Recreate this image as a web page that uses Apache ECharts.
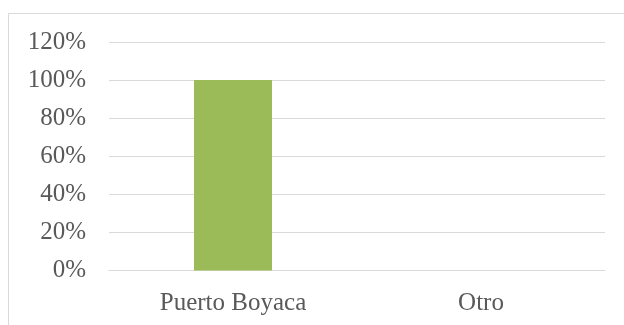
<!DOCTYPE html>
<html>
<head>
<meta charset="utf-8">
<script src="https://cdn.jsdelivr.net/npm/echarts@6/dist/echarts.min.js"></script>
<style>
  html, body { margin: 0; padding: 0; background: #fff; }
  #chart { width: 624px; height: 325px; }
</style>
</head>
<body>
<div id="chart"></div>
<script>
// Share of respondents by place of origin
const categories = ['Puerto Boyaca', 'Otro'];
const shares = [1.0, 0];
const yTicks = { min: 0, max: 1.2, step: 0.2 };

const chart = echarts.init(document.getElementById('chart'), null, { renderer: 'canvas' });
const font = 'Liberation Serif';
const textColor = '#595959';
const lineColor = '#D9D9D9';

chart.setOption({
  animation: false,
  backgroundColor: '#ffffff',
  graphic: [{
    type: 'rect',
    shape: { x: 8.5, y: 13.5, width: 800, height: 500 },
    style: { fill: 'none', stroke: lineColor, lineWidth: 1 },
    silent: true
  }],
  grid: { left: 109, right: 19, top: 42, bottom: 54.5, containLabel: false },
  xAxis: {
    type: 'category',
    data: categories,
    axisLine: { show: true, lineStyle: { color: lineColor, width: 1 } },
    axisTick: { show: false },
    axisLabel: { color: textColor, fontFamily: font, fontSize: 25, margin: 20 }
  },
  yAxis: {
    type: 'value',
    min: yTicks.min,
    max: yTicks.max,
    interval: yTicks.step,
    axisLine: { show: false },
    axisTick: { show: false },
    splitLine: { lineStyle: { color: lineColor, width: 1 } },
    axisLabel: {
      color: textColor, fontFamily: font, fontSize: 25, margin: 23,
      padding: [3, 0, 0, 0],
      formatter: v => Math.round(v * 100) + '%'
    }
  },
  series: [{
    type: 'bar',
    data: shares,
    barWidth: 78,
    itemStyle: { color: '#9BBB59' }
  }]
});
</script>
</body>
</html>
